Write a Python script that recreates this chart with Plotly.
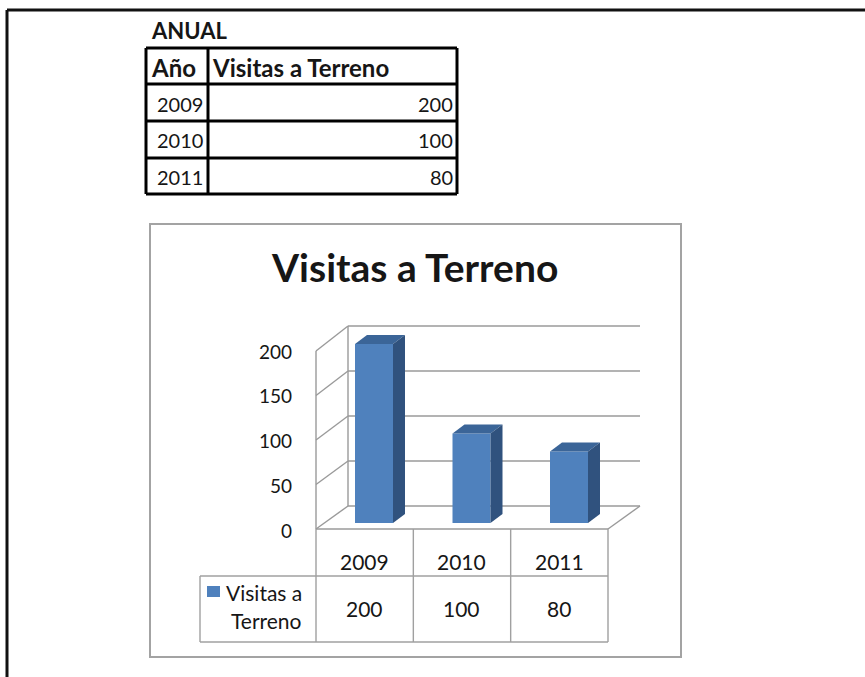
import plotly.graph_objects as go

# ---- data ----
years = ["2009", "2010", "2011"]
visits = [200, 100, 80]
y_ticks = [0, 50, 100, 150, 200]
chart_title = "Visitas a Terreno"
table_title = "ANUAL"
col_headers = ["Año", "Visitas a Terreno"]
series_name = ["Visitas a", "Terreno"]

# ---- geometry helpers (pixel -> paper) ----
W, H = 865, 677
def P(x): return x / W
def Q(y): return 1 - y / H

FONT = "Lato"
TXT = "#161616"
BLUE = "#4f81bd"

# bar axis: category i centre at X0 + i*XS px, value v at Y0 - v*YS px
X0, XS = 374.0, 97.5
Y0, YS = 523.0, 0.895

fig = go.Figure()
fig.add_trace(go.Bar(
    x=list(range(len(years))), y=visits, width=38 / XS,
    marker=dict(color=BLUE, line=dict(width=0)),
    showlegend=False, hoverinfo="skip"))
fig.add_trace(go.Scatter(x=[None], y=[None], xaxis="x", yaxis="y2",
                         showlegend=False, hoverinfo="skip"))

shapes, ann = [], []

def line(x0, y0, x1, y1, color, w, layer="above"):
    shapes.append(dict(type="line", xref="paper", yref="paper",
                       x0=P(x0), y0=Q(y0), x1=P(x1), y1=Q(y1),
                       line=dict(color=color, width=w), layer=layer))

def text(x, y, s, size, bold=False, xanchor="center"):
    ann.append(dict(xref="paper", yref="paper", x=P(x), y=Q(y), text=s,
                    showarrow=False, xanchor=xanchor, yanchor="middle",
                    font=dict(family=FONT, size=size, color=TXT,
                              weight=700 if bold else 400)))

# ---- outer page frame ----
line(7, 10, 7, 677, "#111111", 3)
line(7, 10, 865, 10, "#111111", 3)

# ---- top spreadsheet table ----
text(149, 31, table_title, 22, bold=True, xanchor="left")
tl, tr, tc = 146, 457, 208
rows = [48, 84, 121, 158, 194]
for yy in rows:
    line(tl, yy, tr, yy, "#000000", 3)
line(tl, rows[0], tl, rows[-1], "#000000", 3)
line(tr, rows[0], tr, rows[-1], "#000000", 3)
line(tc, rows[0], tc, rows[-1], "#000000", 3)
text(149, (rows[0] + rows[1]) / 2 + 1, col_headers[0], 24, bold=True, xanchor="left")
text(210, (rows[0] + rows[1]) / 2 + 1, col_headers[1], 24, bold=True, xanchor="left")
for k, (yr, v) in enumerate(zip(years, visits)):
    yc = (rows[k + 1] + rows[k + 2]) / 2 + 1
    text(205, yc, yr, 20, xanchor="right")
    text(455, yc, str(v), 20, xanchor="right")

# ---- chart box ----
shapes.append(dict(type="rect", xref="paper", yref="paper",
                   x0=P(150), y0=Q(657), x1=P(681), y1=Q(224),
                   line=dict(color="#a3a3a3", width=2), fillcolor="rgba(0,0,0,0)",
                   layer="below"))
text(414, 267, chart_title, 39, bold=True)

# ---- 3D walls / gridlines ----
GRID = "#9a9a9a"
FX, BX, RX = 316, 348, 640          # front-left edge, back-left edge, back-right end
def yf(v): return 529 - 0.89 * v     # front edge
def yb(v): return 506 - 0.90 * v     # back wall
for v in y_ticks:
    line(FX, yf(v), BX, yb(v), GRID, 1.4, "below")
    line(BX, yb(v), RX, yb(v), GRID, 1.4, "below")
line(BX, yb(0), BX, yb(max(y_ticks)), GRID, 1.4, "below")
line(FX, yf(0), FX, yf(max(y_ticks)), GRID, 1.4, "below")
FR = 608
line(FX, yf(0), FR, yf(0), GRID, 1.4, "below")
line(FR, yf(0), RX, yb(0), GRID, 1.4, "below")

# ---- 3D faces of bars (data coordinates) ----
hw = 19 / XS
dx = 12 / XS
dv = 9 / YS
for i, v in enumerate(visits):
    l, r = i - hw, i + hw
    shapes.append(dict(type="path", xref="x", yref="y",
                       path=f"M {l},{v} L {r},{v} L {r+dx},{v+dv} L {l+dx},{v+dv} Z",
                       fillcolor="#3b6598", line=dict(width=0)))
    shapes.append(dict(type="path", xref="x", yref="y",
                       path=f"M {r},0 L {r},{v} L {r+dx},{v+dv} L {r+dx},{dv} Z",
                       fillcolor="#30527e", line=dict(width=0)))

# ---- data table under chart ----
TG = "#a0a0a0"
ncat = len(years)
cw = (FR - FX) / ncat
edges = [FX + k * cw for k in range(ncat + 1)]
LX, ty0, ty1, ty2 = 200, 529, 576, 642
for e in edges:
    line(e, ty0, e, ty2, TG, 1.4)
line(LX, ty1, FR, ty1, TG, 1.4)
line(LX, ty2, FR, ty2, TG, 1.4)
line(LX, ty1, LX, ty2, TG, 1.4)
for k, (yr, v) in enumerate(zip(years, visits)):
    cx = (edges[k] + edges[k + 1]) / 2
    text(cx, 561, yr, 21)
    text(cx, 608, str(v), 21)
shapes.append(dict(type="rect", xref="paper", yref="paper",
                   x0=P(207), y0=Q(597), x1=P(220), y1=Q(586),
                   fillcolor=BLUE, line=dict(width=0)))
text(304, 592, series_name[0], 21, xanchor="right")
text(304, 620, series_name[1], 21, xanchor="right")

fig.update_layout(
    width=W, height=H,
    margin=dict(l=0, r=0, t=0, b=0, pad=0, autoexpand=False),
    paper_bgcolor="white", plot_bgcolor="rgba(0,0,0,0)",
    showlegend=False, shapes=shapes, annotations=ann,
    xaxis=dict(domain=[0, 1], range=[-X0 / XS, (W - X0) / XS], visible=False,
               fixedrange=True, automargin=False),
    yaxis=dict(domain=[0, 1], range=[(Y0 - H) / YS, Y0 / YS], visible=False,
               fixedrange=True, automargin=False),
    yaxis2=dict(anchor="free", position=P(FX), domain=[Q(531), Q(352)],
                range=[0, max(y_ticks)], tickvals=y_ticks,
                showgrid=False, zeroline=False, showline=False, ticks="",
                ticklabelstandoff=24, automargin=False,
                tickfont=dict(family=FONT, size=19, color=TXT), fixedrange=True),
)

post = (
    "document.documentElement.style.margin='0';"
    "document.documentElement.style.padding='0';"
    "document.documentElement.style.overflow='hidden';"
    "document.body.style.margin='0';"
    "document.body.style.padding='0';"
    "document.body.style.overflow='hidden';"
    "var d=document.getElementById('{plot_id}');"
    "d.style.position='fixed';d.style.top='0px';d.style.left='0px';"
)
fig.write_html("out.html", config={"displayModeBar": False}, post_script=post)
